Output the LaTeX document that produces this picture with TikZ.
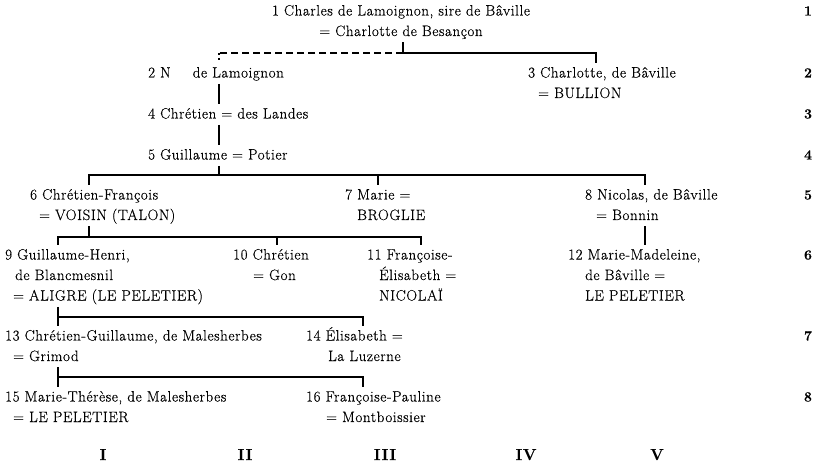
\documentclass[tikz,border=0pt]{standalone}
\usepackage{fontspec}
\setmainfont{Latin Modern Roman}[LetterSpace=4,FakeBold=0.4]
% one family entry: lines stacked, baseline on the first line
\newcommand\famentry[1]{\begin{tabular}[t]{@{}l@{}}#1\end{tabular}}
\newcommand\ind[1]{\hspace*{#1pt}}
\begin{document}
\begin{tikzpicture}[x=1pt,y=-1pt,
  every node/.style={inner sep=0pt,font=\fontsize{15}{20.5}\selectfont},
  person/.style={anchor=base west},
  gen/.style={anchor=base,font=\fontsize{14}{16}\selectfont\bfseries},
  col/.style={anchor=base,font=\fontsize{16}{18}\selectfont\bfseries},
  link/.style={line width=2pt},
  uncertain/.style={line width=2pt,dash pattern=on 7pt off 4pt},
  uncertaindrop/.style={line width=2pt,dash pattern=on 2pt off 3pt}]
\useasboundingbox (0,0) rectangle (817,468);

% people
\node[anchor=base] (n1) at (401,15.5)
  {\begin{tabular}[t]{@{}c@{}}1 Charles de Lamoignon, sire de Bâville\\= Charlotte de Besançon\end{tabular}};
\node[person] (n2) at (148,77.5) {\famentry{2 N\hspace{17pt} de Lamoignon}};
\node[person] (n3) at (528,77.5) {\famentry{3 Charlotte, de Bâville\\\ind{10}= BULLION}};
\node[person] (n4) at (148,118.5) {\famentry{4 Chrétien = des Landes}};
\node[person] (n5) at (148,159.5) {\famentry{5 Guillaume = Potier}};
\node[person] (n6) at (30,199.5) {\famentry{6 Chrétien-François\\\ind{9}= VOISIN (TALON)}};
\node[person] (n7) at (345,199.5) {\famentry{7 Marie =\\\ind{12}BROGLIE}};
\node[person] (n8) at (585,199.5) {\famentry{8 Nicolas, de Bâville\\\ind{11}= Bonnin}};
\node[person] (n9) at (5,259.5) {\famentry{9 Guillaume-Henri,\\\ind{10}de Blancmesnil\\\ind{8}= ALIGRE (LE PELETIER)}};
\node[person] (n10) at (233,259.5) {\famentry{10 Chrétien\\\ind{20}= Gon}};
\node[person] (n11) at (367,259.5) {\famentry{11 Françoise-\\\ind{12}Élisabeth =\\\ind{12}NICOLAÏ}};
\node[person] (n12) at (568,259.5) {\famentry{12 Marie-Madeleine,\\\ind{17}de Bâville =\\\ind{17}LE PELETIER}};
\node[person] (n13) at (5,340.5) {\famentry{13 Chrétien-Guillaume, de Malesherbes\\\ind{8}= Grimod}};
\node[person] (n14) at (306,340.5) {\famentry{14 Élisabeth =\\\ind{22}La Luzerne}};
\node[person] (n15) at (5,401.5) {\famentry{15 Marie-Thérèse, de Malesherbes\\\ind{8}= LE PELETIER}};
\node[person] (n16) at (306,401.5) {\famentry{16 Françoise-Pauline\\\ind{20}= Montboissier}};

% generation numbers
\node[gen] (r1) at (808,15.5) {1};
\node[gen] (r2) at (808,77.5) {2};
\node[gen] (r3) at (808,118.5) {3};
\node[gen] (r4) at (808,159.5) {4};
\node[gen] (r5) at (808,199.5) {5};
\node[gen] (r6) at (808,259.5) {6};
\node[gen] (r7) at (808,340.5) {7};
\node[gen] (r8) at (808,401.5) {8};

% column numerals
\node[col] (c1) at (103,460) {I};
\node[col] (c2) at (245,460) {II};
\node[col] (c3) at (385,460) {III};
\node[col] (c4) at (526,460) {IV};
\node[col] (c5) at (657,460) {V};

% junction points
\coordinate (j1) at (403,53);
\coordinate (d2) at (219,53);
\coordinate (d3) at (596,53);
\coordinate (j5) at (219,175);
\coordinate (d6) at (89,175);
\coordinate (d7) at (378,175);
\coordinate (d8) at (645,175);
\coordinate (j6) at (89,237);
\coordinate (d9) at (58,237);
\coordinate (d10) at (277,237);
\coordinate (d11) at (421,237);
\coordinate (j9) at (58,317);
\coordinate (d14) at (363,317);
\coordinate (j13) at (58,377);
\coordinate (d16) at (363,377);

% generation 1 -> 2
\draw[link] (n1.south -| j1) -- (j1) -- (d3) -- (n3.north -| d3);
\draw[uncertain] (j1) -- (d2);
\draw[uncertaindrop] (d2) -- (n2.north -| d2);
% single lines of descent
\draw[link] (n2.south -| d2) -- (n4.north -| d2);
\draw[link] (n4.south -| d2) -- (n5.north -| d2);
\draw[link] (n8.south -| d8) -- (n12.north -| d8);
% children of 5
\draw[link] (n5.south -| j5) -- (j5);
\draw[link] (n6.north -| d6) -- (d6) -- (d8) -- (n8.north -| d8);
\draw[link] (d7) -- (n7.north -| d7);
% children of 6
\draw[link] (n6.south -| j6) -- (j6);
\draw[link] (n9.north -| d9) -- (d9) -- (d11) -- (n11.north -| d11);
\draw[link] (d10) -- (n10.north -| d10);
% children of 9
\draw[link] (n9.south -| j9) -- (n13.north -| j9);
\draw[link] (j9) -- (d14) -- (n14.north -| d14);
% children of 13
\draw[link] (n13.south -| j13) -- (n15.north -| j13);
\draw[link] (j13) -- (d16) -- (n16.north -| d16);
\end{tikzpicture}
\end{document}
